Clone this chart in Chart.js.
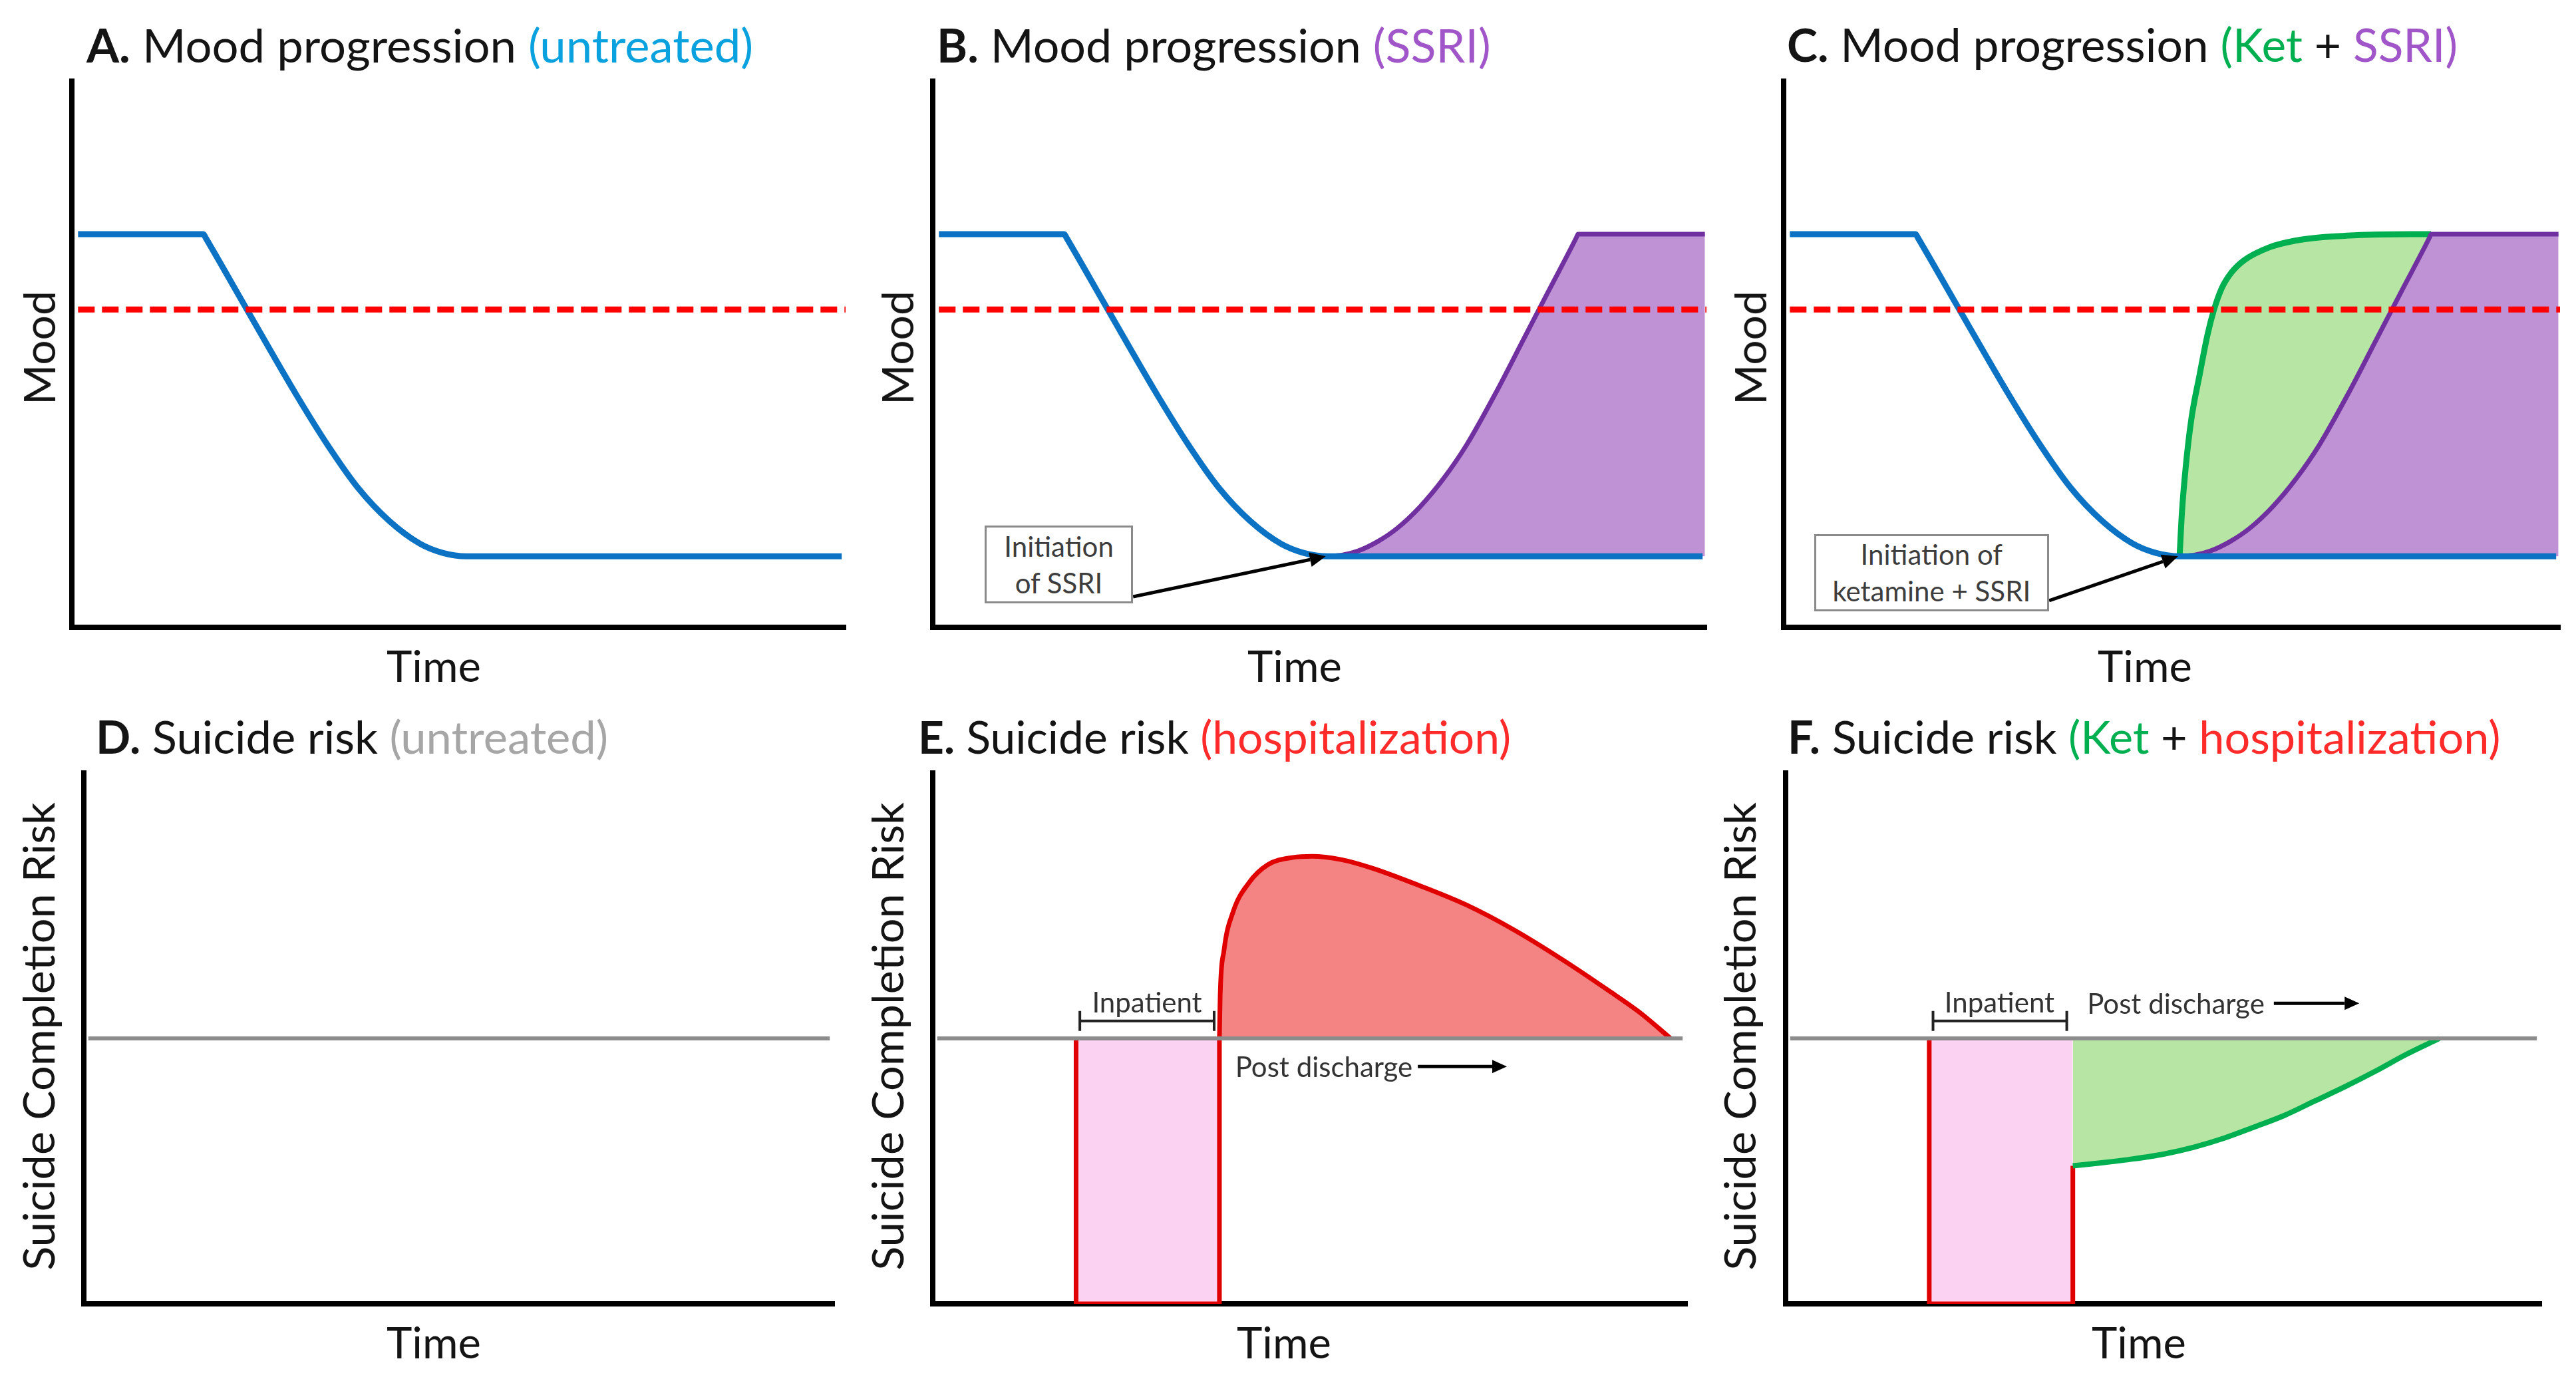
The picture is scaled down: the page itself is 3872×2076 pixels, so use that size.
<!DOCTYPE html>
<html><head><meta charset="utf-8">
<script src="https://cdn.jsdelivr.net/npm/chart.js@4.4.1/dist/chart.umd.min.js"></script>
<style>
html,body{margin:0;padding:0;background:#fff;}
#fig{position:relative;width:3872px;height:2076px;overflow:hidden;font-family:Lato,"Open Sans",sans-serif;background:#fff;}
.t{position:absolute;white-space:nowrap;line-height:1;color:#141414;}
.box{position:absolute;box-sizing:border-box;border:3px solid #8a8a8a;background:#fff;display:flex;flex-direction:column;justify-content:center;align-items:center;color:#3d3d3d;font-size:42px;line-height:55px;white-space:nowrap;}
</style></head>
<body><div id="fig"></div>
<script>
// ---------- data (x = time, y = level, both on a 0..100 scale) ----------
const moodTime        = [0.8, 17, 17.3, 22.5, 29, 33, 37, 41, 45, 48, 51, 99.5];
const moodUntreated   = [72, 72, 71.3, 58.5, 42.6, 33.5, 25.5, 19.5, 15.3, 13.6, 13, 13];
const ssriTime        = [51, 53, 55, 57.5, 60, 63, 66, 69, 72.8, 76.2, 79.6, 83.2, 83.4, 83.6, 99.8];
const ssriMood        = [13, 13.25, 14, 15.7, 18.1, 22.1, 27.2, 33.4, 43, 52.3, 61.6, 71.4, 72, 72, 72];
const ketTime         = [51, 51.3, 51.8, 52.5, 53.6, 54.6, 55.4, 56.4, 57.7, 59.3, 62.6, 65.9, 69.2, 72.5, 75.8, 83.4];
const ketMood         = [13, 21, 29.5, 38, 46.4, 53.6, 58, 62, 65, 67.2, 69.6, 70.8, 71.4, 71.7, 71.9, 72];
const thresholdTime   = [0.8, 100];
const thresholdMood   = [58.2, 58.2];
const baselineTime    = [0.6, 99.4];
const baselineRisk    = [50, 50];
const inpatientTime   = [19, 19, 38, 38];
const inpatientRiskE  = [50, 0, 0, 50];
const inpatientRiskF  = [50, 0, 0, 26];
const postHospTime    = [38, 38.1, 38.6, 39.8, 41.9, 44.4, 47.8, 50.3, 54.1, 58.2, 64.5, 70.8, 77.1, 83.4, 89.6, 93.8, 97.8];
const postHospRisk    = [50, 58, 66.5, 73.8, 79.3, 82.7, 84.1, 84.3, 83.7, 82.1, 78.8, 75.1, 70.4, 64.9, 59, 54.8, 50];
const postKetTime     = [38, 42, 46, 50, 54, 58, 62, 66, 70, 74, 78, 82, 86.5];
const postKetRisk     = [26, 26.6, 27.3, 28.2, 29.5, 31.2, 33.3, 35.5, 38.2, 40.9, 43.8, 46.9, 50];

// ---------- layout ----------
const fig = document.getElementById('fig');
const M = 30;
const panels = {
  A:{L:108, R:1271, T:122, B:943},
  B:{L:1402,R:2565, T:122, B:943},
  C:{L:2681,R:3848, T:122, B:943},
  D:{L:126, R:1254, T:1162,B:1960},
  E:{L:1402,R:2536, T:1162,B:1960},
  F:{L:2684,R:3820, T:1162,B:1960}
};
const COL = {blue:'#0B72C4', red:'#FF0000', purple:'#7030A0', purpleFill:'#BF91D5',
  green:'#00B050', greenFill:'#B7E5A4', darkRed:'#E00000', salmon:'#F48383', pink:'#FCD2F3', gray:'#8C8C8C'};

function pts(xs, ys){ return xs.map((x,i)=>({x:x, y:ys[i]})); }

function axes(){
  const mk = (pos) => ({type:'linear', position:pos, min:0, max:100,
    ticks:{display:false}, grid:{display:false, drawTicks:false},
    border:{display:true, color:'#000', width:8},
    afterFit:(s)=>{ if(pos==='bottom') s.height=0; else s.width=0; }});
  return {x:mk('bottom'), y:mk('left')};
}

function drawArrow(ctx,x1,y1,x2,y2,w,hl,hw){
  const a=Math.atan2(y2-y1,x2-x1);
  const bx=x2-hl*Math.cos(a), by=y2-hl*Math.sin(a);
  ctx.save(); ctx.strokeStyle='#000'; ctx.fillStyle='#000'; ctx.lineWidth=w; ctx.lineCap='butt';
  ctx.beginPath(); ctx.moveTo(x1,y1); ctx.lineTo(bx,by); ctx.stroke();
  ctx.beginPath(); ctx.moveTo(x2,y2);
  ctx.lineTo(bx+hw*Math.sin(a), by-hw*Math.cos(a));
  ctx.lineTo(bx-hw*Math.sin(a), by+hw*Math.cos(a));
  ctx.closePath(); ctx.fill(); ctx.restore();
}

function makeChart(key, datasets, ann){
  const p = panels[key];
  const w = p.R-p.L+2*M, h = p.B-p.T+2*M;
  const cv = document.createElement('canvas');
  cv.width = w; cv.height = h;
  cv.style.cssText = 'position:absolute;left:'+(p.L-M)+'px;top:'+(p.T-M)+'px;width:'+w+'px;height:'+h+'px;';
  fig.appendChild(cv);
  ann = ann || {};
  const plugin = {
    id:'annot'+key,
    afterDatasetsDraw(chart){
      const ctx=chart.ctx, xs=chart.scales.x, ys=chart.scales.y;
      (ann.arrows||[]).forEach(a=>{
        drawArrow(ctx, xs.getPixelForValue(a.from[0]), ys.getPixelForValue(a.from[1]),
                       xs.getPixelForValue(a.to[0]), ys.getPixelForValue(a.to[1]), a.w||5, a.hl||24, a.hw||11);
      });
      (ann.brackets||[]).forEach(b=>{
        const x0=xs.getPixelForValue(b.x0), x1=xs.getPixelForValue(b.x1), y=ys.getPixelForValue(b.y);
        ctx.save(); ctx.strokeStyle='#222'; ctx.lineWidth=4;
        ctx.beginPath(); ctx.moveTo(x0,y); ctx.lineTo(x1,y);
        ctx.moveTo(x0,y-15); ctx.lineTo(x0,y+15); ctx.moveTo(x1,y-15); ctx.lineTo(x1,y+15);
        ctx.stroke(); ctx.restore();
      });
    }
  };
  const chart = new Chart(cv, {
    type:'line',
    data:{datasets:datasets},
    options:{responsive:false, animation:false, events:[],
      layout:{padding:M},
      plugins:{legend:{display:false}, title:{display:false}, tooltip:{enabled:false}},
      elements:{point:{radius:0}, line:{borderCapStyle:'butt', borderJoinStyle:'miter'}},
      scales:axes()},
    plugins:[plugin]
  });
  const toPx = (xv,yv)=>[p.L-M+chart.scales.x.getPixelForValue(xv), p.T-M+chart.scales.y.getPixelForValue(yv)];
  (ann.boxes||[]).forEach(b=>{
    const [l,t]=toPx(b.x0,b.y0), [r,bt]=toPx(b.x1,b.y1);
    const d=document.createElement('div'); d.className='box';
    d.style.left=l+'px'; d.style.top=t+'px'; d.style.width=(r-l)+'px'; d.style.height=(bt-t)+'px';
    b.lines.forEach(s=>{ const sp=document.createElement('div'); sp.textContent=s; d.appendChild(sp); });
    fig.appendChild(d);
  });
  (ann.labels||[]).forEach(lb=>{
    const [x,y]=toPx(lb.x,lb.y);
    const d=document.createElement('div'); d.className='t'; d.textContent=lb.text;
    d.style.fontSize='42px'; d.style.color='#333';
    d.style.left=x+'px'; d.style.top=y+'px';
    d.style.transform = lb.anchor==='left' ? 'translate(0,-50%)' : 'translate(-50%,-50%)';
    fig.appendChild(d);
  });
  return chart;
}

// dataset builders
const dsThreshold = () => ({data:pts(thresholdTime,thresholdMood), borderColor:COL.red, borderWidth:9, borderDash:[25,11], fill:false, tension:0});
const dsBlue = () => ({data:pts(moodTime,moodUntreated), borderColor:COL.blue, borderWidth:9, cubicInterpolationMode:'monotone', fill:false});
const dsPurple = () => ({data:pts(ssriTime,ssriMood), borderColor:COL.purple, borderWidth:7, cubicInterpolationMode:'monotone', fill:{value:13}, backgroundColor:COL.purpleFill});
const dsBase = () => ({data:pts(baselineTime,baselineRisk), borderColor:COL.gray, borderWidth:6, fill:false, tension:0});

makeChart('A', [dsThreshold(), dsBlue()]);
makeChart('B', [dsThreshold(), dsBlue(), dsPurple()], {
  boxes:[{x0:6.7, x1:25.9, y0:18.6, y1:4.4, lines:['Initiation','of SSRI']}],
  arrows:[{from:[25.9,5.6], to:[50.8,13]}]
});
makeChart('C', [dsThreshold(), dsBlue(), dsPurple(),
  {data:pts(ketTime,ketMood), borderColor:COL.green, borderWidth:9, cubicInterpolationMode:'monotone', fill:'-1', backgroundColor:COL.greenFill}], {
  boxes:[{x0:3.9, x1:34.2, y0:17.1, y1:2.9, lines:['Initiation of','ketamine + SSRI']}],
  arrows:[{from:[34.2,4.9], to:[50.8,13]}]
});
makeChart('D', [dsBase()]);
makeChart('E', [dsBase(),
  {data:pts(postHospTime,postHospRisk), borderColor:COL.darkRed, borderWidth:7, cubicInterpolationMode:'monotone', fill:{value:50}, backgroundColor:COL.salmon},
  {data:pts(inpatientTime,inpatientRiskE), borderColor:COL.darkRed, borderWidth:7, tension:0, fill:{value:50}, backgroundColor:COL.pink}], {
  brackets:[{x0:19.5, x1:37.3, y:53.3}],
  arrows:[{from:[64.3,44.7], to:[76.1,44.7], w:5, hl:22, hw:10}],
  labels:[{text:'Inpatient', x:28.4, y:56.9}, {text:'Post discharge', x:40.1, y:44.7, anchor:'left'}]
});
makeChart('F', [dsBase(),
  {data:pts(postKetTime,postKetRisk), borderColor:COL.green, borderWidth:8, cubicInterpolationMode:'monotone', fill:{value:50}, backgroundColor:COL.greenFill},
  {data:pts(inpatientTime,inpatientRiskF), borderColor:COL.darkRed, borderWidth:7, tension:0, fill:{value:50}, backgroundColor:COL.pink}], {
  brackets:[{x0:19.5, x1:37.2, y:53.3}],
  arrows:[{from:[64.6,56.6], to:[75.9,56.6], w:5, hl:22, hw:10}],
  labels:[{text:'Inpatient', x:28.3, y:56.9}, {text:'Post discharge', x:39.9, y:56.6, anchor:'left'}]
});

// ---------- text ----------
function addText(html, x, y, opt){
  const d=document.createElement('div'); d.className='t'; d.innerHTML=html;
  d.style.fontSize='100px';
  fig.appendChild(d);
  const w=d.offsetWidth;
  d.style.fontSize=(100*opt.width/w).toFixed(2)+'px';
  d.style.left=x+'px'; d.style.top=y+'px';
  if(opt.rotate) d.style.transform='translate(-50%,-50%) rotate(-90deg)';
  else if(opt.anchor==='left') d.style.transform='translate(0,-50%)';
  else d.style.transform='translate(-50%,-50%)';
  return d;
}
const c = (col, s) => '<span style="color:'+col+'">'+s+'</span>';
const L = s => '<b>'+s+'</b>';
const cBlue='#0AA2DE', cPurple='#A055C8', cGreen='#00B050', cRed='#FF2A2A', cGray='#A6A6A6';

addText(L('A.')+' Mood progression '+c(cBlue,'(untreated)'), 130, 67, {anchor:'left', width:1002});
addText(L('B.')+' Mood progression '+c(cPurple,'(SSRI)'), 1408, 67, {anchor:'left', width:833});
addText(L('C.')+' Mood progression '+c(cGreen,'(Ket')+' + '+c(cPurple,'SSRI)'), 2686, 67, {anchor:'left', width:1008});
addText(L('D.')+' Suicide risk '+c(cGray,'(untreated)'), 144, 1107, {anchor:'left', width:770});
addText(L('E.')+' Suicide risk '+c(cRed,'(hospitalization)'), 1380, 1107, {anchor:'left', width:891});
addText(L('F.')+' Suicide risk '+c(cGreen,'(Ket')+' + '+c(cRed,'hospitalization)'), 2687, 1107, {anchor:'left', width:1072});

[58,1348,2630].forEach(x=>addText('Mood', x, 523, {rotate:true, width:172}));
[652,1946,3224].forEach(x=>addText('Time', x, 1001, {width:142}));
[652,1930,3215].forEach(x=>addText('Time', x, 2018, {width:142}));
[56,1332,2613].forEach(x=>addText('Suicide Completion Risk', x, 1558, {rotate:true, width:704}));
</script>
</body></html>
